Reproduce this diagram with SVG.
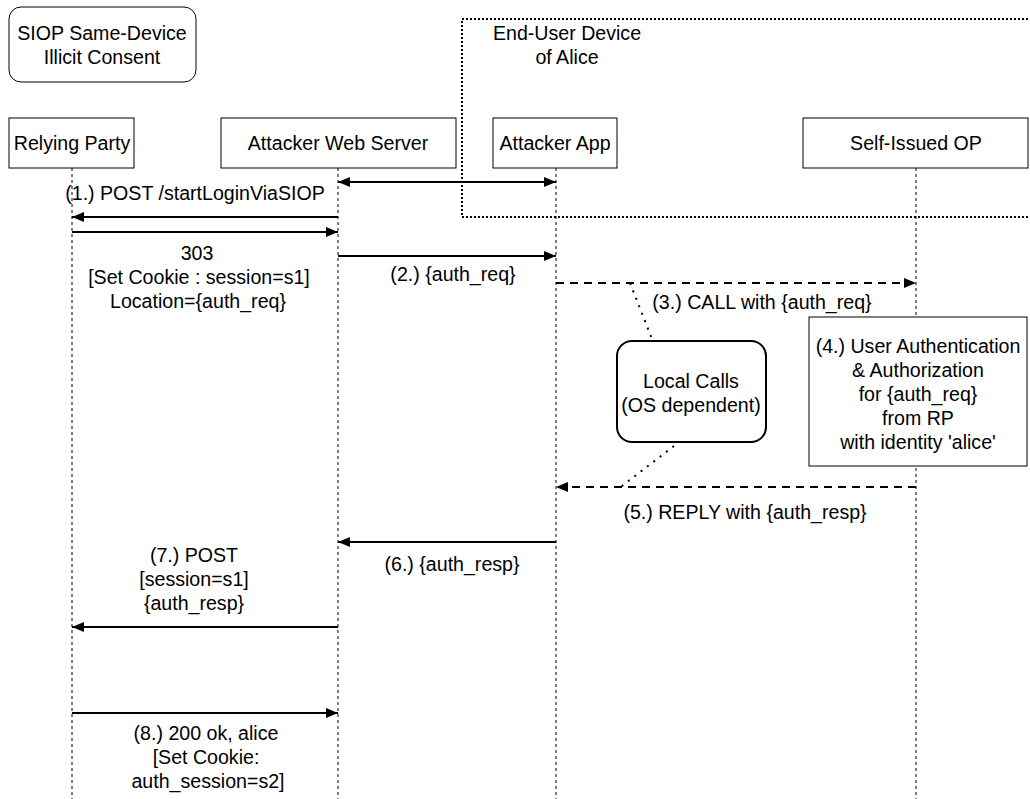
<svg xmlns="http://www.w3.org/2000/svg" width="1030" height="799" viewBox="0 0 1030 799">
<defs>
<marker id="ah" viewBox="0 0 12 10" refX="12" refY="5" markerWidth="12" markerHeight="10" markerUnits="userSpaceOnUse" orient="auto-start-reverse">
<path d="M0,0 L12,5 L0,10 Z" fill="#000"/>
</marker>
<style>
text{font-family:"Liberation Sans",Arial,Helvetica,sans-serif;font-size:19.6px;fill:#000;text-anchor:middle}
.box{fill:#fff;stroke:#000;stroke-width:1}
.life{stroke:#000;stroke-width:1;stroke-dasharray:3 3;fill:none}
.msg{stroke:#000;stroke-width:2;fill:none}
.dmsg{stroke:#000;stroke-width:2;fill:none;stroke-dasharray:8 6}
.dot{stroke:#000;stroke-width:2;fill:none;stroke-dasharray:2 6}
</style>
</defs>
<rect width="1030" height="799" fill="#fff"/>

<g id="device-frame">
<rect x="462" y="19" width="600" height="198" fill="none" stroke="#000" stroke-width="2" stroke-dasharray="2 2"/>
<text x="567" y="40">End-User Device</text>
<text x="567" y="64">of Alice</text>
</g>

<g id="title">
<rect class="box" x="9" y="7" width="187" height="75" rx="12"/>
<text x="102" y="40">SIOP Same-Device</text>
<text x="102" y="64">Illicit Consent</text>
</g>

<g id="lifelines">
<line class="life" x1="72" y1="168" x2="72" y2="799"/>
<line class="life" x1="338" y1="168" x2="338" y2="799"/>
<line class="life" x1="556" y1="168" x2="556" y2="799"/>
<line class="life" x1="916" y1="168" x2="916" y2="799"/>
</g>

<g id="relying-party">
<rect class="box" x="9" y="118" width="125" height="50"/>
<text x="72" y="150">Relying Party</text>
</g>
<g id="attacker-web-server">
<rect class="box" x="221" y="118" width="235" height="50"/>
<text x="338" y="150">Attacker Web Server</text>
</g>
<g id="attacker-app">
<rect class="box" x="493" y="118" width="124" height="50"/>
<text x="555" y="150">Attacker App</text>
</g>
<g id="self-issued-op">
<rect class="box" x="803" y="118" width="225" height="50"/>
<text x="916" y="150">Self-Issued OP</text>
</g>

<g id="auth-box">
<rect class="box" x="809" y="317" width="218" height="149"/>
<text x="918" y="353">(4.) User Authentication</text>
<text x="918" y="377">&amp; Authorization</text>
<text x="918" y="401">for {auth_req}</text>
<text x="918" y="425">from RP</text>
<text x="918" y="449">with identity 'alice'</text>
</g>

<g id="local-calls">
<rect x="617" y="341" width="149" height="101" rx="15" fill="#fff" stroke="#000" stroke-width="2"/>
<text x="691" y="388">Local Calls</text>
<text x="691" y="412">(OS dependent)</text>
</g>

<g id="connectors">
<line class="msg" x1="338" y1="182" x2="556" y2="182" marker-start="url(#ah)" marker-end="url(#ah)"/>
<line class="msg" x1="338" y1="217" x2="72" y2="217" marker-end="url(#ah)"/>
<line class="msg" x1="72" y1="232" x2="338" y2="232" marker-end="url(#ah)"/>
<line class="msg" x1="338" y1="256" x2="556" y2="256" marker-end="url(#ah)"/>
<line class="dmsg" x1="556" y1="283" x2="916" y2="283" marker-end="url(#ah)"/>
<line class="dmsg" x1="916" y1="487" x2="556" y2="487" marker-end="url(#ah)"/>
<line class="msg" x1="556" y1="542" x2="338" y2="542" marker-end="url(#ah)"/>
<line class="msg" x1="338" y1="627" x2="72" y2="627" marker-end="url(#ah)"/>
<line class="msg" x1="72" y1="713" x2="338" y2="713" marker-end="url(#ah)"/>
<line class="dot" x1="630" y1="283" x2="652" y2="339"/>
<line class="dot" x1="674" y1="446" x2="618" y2="489"/>
</g>

<g id="labels">
<text x="195" y="200">(1.) POST /startLoginViaSIOP</text>
<text x="197" y="260">303</text>
<text x="199" y="284">[Set Cookie : session=s1]</text>
<text x="198" y="308">Location={auth_req}</text>
<text x="453" y="281">(2.) {auth_req}</text>
<text x="762" y="309">(3.) CALL with {auth_req}</text>
<text x="745" y="519">(5.) REPLY with {auth_resp}</text>
<text x="452" y="571">(6.) {auth_resp}</text>
<text x="194" y="562">(7.) POST</text>
<text x="194" y="586">[session=s1]</text>
<text x="194" y="610">{auth_resp}</text>
<text x="206" y="740">(8.) 200 ok, alice</text>
<text x="206" y="764">[Set Cookie:</text>
<text x="208" y="788">auth_session=s2]</text>
</g>
</svg>
